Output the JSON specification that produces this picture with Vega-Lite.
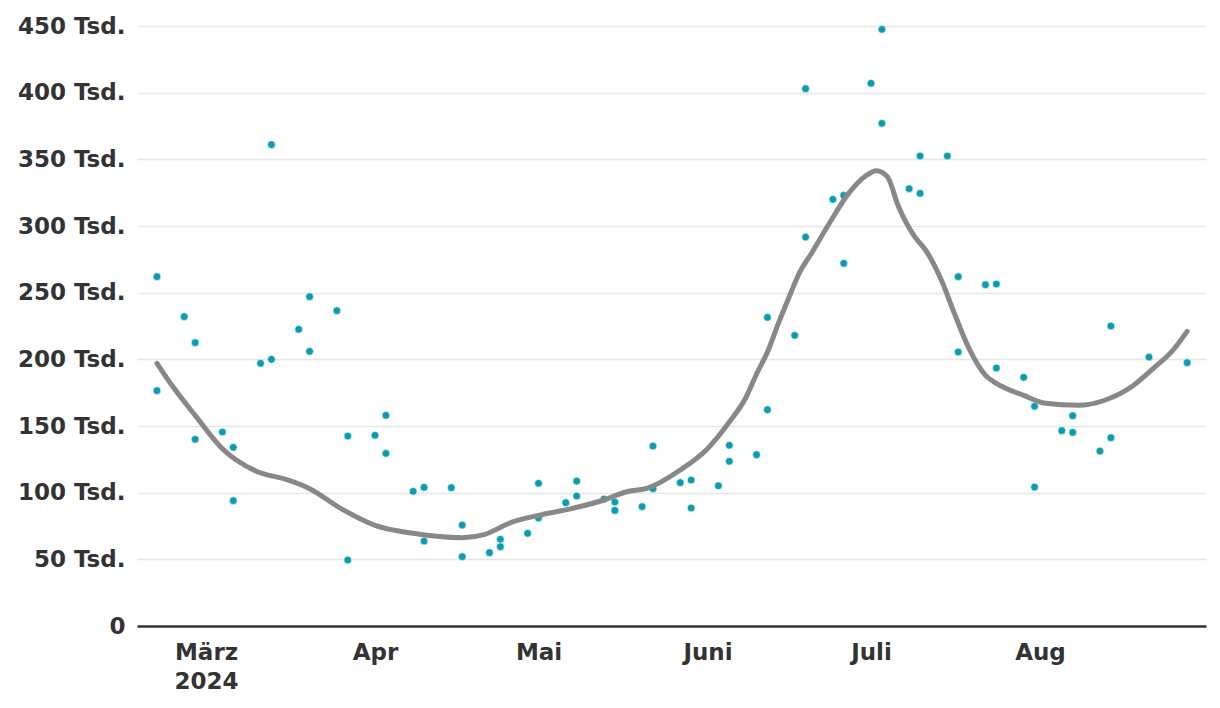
{
  "$schema": "https://vega.github.io/schema/vega-lite/v6.json",
  "width": 1069,
  "height": 600,
  "autosize": {"type": "none"},
  "padding": {"left": 137, "top": 26, "right": 14, "bottom": 82},
  "background": "white",
  "config": {
    "view": {"stroke": null},
    "font": "DejaVu Sans"
  },
  "datasets": {
    "points": [
      {"date": "2024-02-21", "value": 262000}, {"date": "2024-02-21", "value": 176500},
      {"date": "2024-02-26", "value": 232000},
      {"date": "2024-02-28", "value": 212500}, {"date": "2024-02-28", "value": 140000},
      {"date": "2024-03-04", "value": 145500},
      {"date": "2024-03-06", "value": 134000}, {"date": "2024-03-06", "value": 94000},
      {"date": "2024-03-11", "value": 197000},
      {"date": "2024-03-13", "value": 361000}, {"date": "2024-03-13", "value": 200000},
      {"date": "2024-03-18", "value": 222500},
      {"date": "2024-03-20", "value": 247000}, {"date": "2024-03-20", "value": 206000},
      {"date": "2024-03-25", "value": 236500},
      {"date": "2024-03-27", "value": 142500}, {"date": "2024-03-27", "value": 49500},
      {"date": "2024-04-01", "value": 143000},
      {"date": "2024-04-03", "value": 158000}, {"date": "2024-04-03", "value": 129500},
      {"date": "2024-04-08", "value": 101000},
      {"date": "2024-04-10", "value": 104000}, {"date": "2024-04-10", "value": 63700},
      {"date": "2024-04-15", "value": 103700},
      {"date": "2024-04-17", "value": 75700}, {"date": "2024-04-17", "value": 52000},
      {"date": "2024-04-22", "value": 55000},
      {"date": "2024-04-24", "value": 65000}, {"date": "2024-04-24", "value": 59500},
      {"date": "2024-04-29", "value": 69500},
      {"date": "2024-05-01", "value": 107000}, {"date": "2024-05-01", "value": 81000},
      {"date": "2024-05-06", "value": 92500},
      {"date": "2024-05-08", "value": 108700}, {"date": "2024-05-08", "value": 97500},
      {"date": "2024-05-13", "value": 95200},
      {"date": "2024-05-15", "value": 93000}, {"date": "2024-05-15", "value": 86700},
      {"date": "2024-05-20", "value": 89500},
      {"date": "2024-05-22", "value": 135000}, {"date": "2024-05-22", "value": 103000},
      {"date": "2024-05-27", "value": 107500},
      {"date": "2024-05-29", "value": 109500}, {"date": "2024-05-29", "value": 88500},
      {"date": "2024-06-03", "value": 105200},
      {"date": "2024-06-05", "value": 135500}, {"date": "2024-06-05", "value": 123500},
      {"date": "2024-06-10", "value": 128500},
      {"date": "2024-06-12", "value": 231500}, {"date": "2024-06-12", "value": 162200},
      {"date": "2024-06-17", "value": 218000},
      {"date": "2024-06-19", "value": 403000}, {"date": "2024-06-19", "value": 291700},
      {"date": "2024-06-24", "value": 320000},
      {"date": "2024-06-26", "value": 323000}, {"date": "2024-06-26", "value": 272000},
      {"date": "2024-07-01", "value": 407000},
      {"date": "2024-07-03", "value": 447500}, {"date": "2024-07-03", "value": 377000},
      {"date": "2024-07-08", "value": 328000},
      {"date": "2024-07-10", "value": 352500}, {"date": "2024-07-10", "value": 324500},
      {"date": "2024-07-15", "value": 352500},
      {"date": "2024-07-17", "value": 262000}, {"date": "2024-07-17", "value": 205500},
      {"date": "2024-07-22", "value": 256000},
      {"date": "2024-07-24", "value": 256500}, {"date": "2024-07-24", "value": 193500},
      {"date": "2024-07-29", "value": 186500},
      {"date": "2024-07-31", "value": 164800}, {"date": "2024-07-31", "value": 104200},
      {"date": "2024-08-05", "value": 146500},
      {"date": "2024-08-07", "value": 157700}, {"date": "2024-08-07", "value": 145200},
      {"date": "2024-08-12", "value": 131200},
      {"date": "2024-08-14", "value": 225000}, {"date": "2024-08-14", "value": 141200},
      {"date": "2024-08-21", "value": 201700},
      {"date": "2024-08-28", "value": 197500}
    ],
    "trend": [
      {"date": "2024-02-21", "value": 197000},
      {"date": "2024-02-24", "value": 179000},
      {"date": "2024-02-28", "value": 158000},
      {"date": "2024-03-04", "value": 133000},
      {"date": "2024-03-10", "value": 116500},
      {"date": "2024-03-16", "value": 109500},
      {"date": "2024-03-20", "value": 103000},
      {"date": "2024-03-26", "value": 87500},
      {"date": "2024-04-01", "value": 75500},
      {"date": "2024-04-08", "value": 69500},
      {"date": "2024-04-17", "value": 66200},
      {"date": "2024-04-21", "value": 68500},
      {"date": "2024-04-26", "value": 77700},
      {"date": "2024-05-01", "value": 83000},
      {"date": "2024-05-07", "value": 88000},
      {"date": "2024-05-13", "value": 94500},
      {"date": "2024-05-17", "value": 100500},
      {"date": "2024-05-21", "value": 103400},
      {"date": "2024-05-27", "value": 117000},
      {"date": "2024-06-01", "value": 133000},
      {"date": "2024-06-05", "value": 153000},
      {"date": "2024-06-08", "value": 171000},
      {"date": "2024-06-10", "value": 189000},
      {"date": "2024-06-12", "value": 205500},
      {"date": "2024-06-14", "value": 227000},
      {"date": "2024-06-16", "value": 247000},
      {"date": "2024-06-18", "value": 266000},
      {"date": "2024-06-20", "value": 279000},
      {"date": "2024-06-23", "value": 299600},
      {"date": "2024-06-27", "value": 325000},
      {"date": "2024-06-30", "value": 337500},
      {"date": "2024-07-02", "value": 341500},
      {"date": "2024-07-04", "value": 337000},
      {"date": "2024-07-06", "value": 315000},
      {"date": "2024-07-09", "value": 292000},
      {"date": "2024-07-11", "value": 282000},
      {"date": "2024-07-14", "value": 258500},
      {"date": "2024-07-16", "value": 237500},
      {"date": "2024-07-19", "value": 208000},
      {"date": "2024-07-22", "value": 188000},
      {"date": "2024-07-24", "value": 182000},
      {"date": "2024-07-29", "value": 173000},
      {"date": "2024-08-02", "value": 167000},
      {"date": "2024-08-08", "value": 165500},
      {"date": "2024-08-13", "value": 169500},
      {"date": "2024-08-18", "value": 180000},
      {"date": "2024-08-22", "value": 194000},
      {"date": "2024-08-25", "value": 205000},
      {"date": "2024-08-28", "value": 221000}
    ]
  },
  "encoding": {
    "x": {
      "field": "date",
      "type": "temporal",
      "scale": {
        "type": "utc",
        "domain": [
          {"year": 2024, "month": 2, "date": 17, "hours": 8, "utc": true},
          {"year": 2024, "month": 8, "date": 31, "hours": 11, "utc": true}
        ]
      },
      "axis": {
        "title": null,
        "values": [
          {"year": 2024, "month": 3, "date": 1, "utc": true},
          {"year": 2024, "month": 4, "date": 1, "utc": true},
          {"year": 2024, "month": 5, "date": 1, "utc": true},
          {"year": 2024, "month": 6, "date": 1, "utc": true},
          {"year": 2024, "month": 7, "date": 1, "utc": true},
          {"year": 2024, "month": 8, "date": 1, "utc": true}
        ],
        "labelExpr": "utcmonth(datum.value) == 2 ? ['März', '2024'] : ['Jan','Feb','März','Apr','Mai','Juni','Juli','Aug','Sep','Okt','Nov','Dez'][utcmonth(datum.value)]",
        "ticks": false,
        "grid": false,
        "domain": true,
        "domainColor": "#333333",
        "domainWidth": 2.5,
        "labelFont": "DejaVu Sans",
        "labelFontWeight": "bold",
        "labelFontSize": 23,
        "labelColor": "#333333",
        "labelPadding": 15,
        "labelLineHeight": 29,
        "labelFlush": false,
        "labelOverlap": false
      }
    },
    "y": {
      "field": "value",
      "type": "quantitative",
      "scale": {"domain": [0, 450000], "nice": false, "zero": true},
      "axis": {
        "title": null,
        "values": [0, 50000, 100000, 150000, 200000, 250000, 300000, 350000, 400000, 450000],
        "labelExpr": "datum.value == 0 ? '0' : format(datum.value / 1000, 'd') + ' Tsd.'",
        "ticks": false,
        "domain": false,
        "grid": true,
        "gridColor": "#e6e6e6",
        "gridWidth": 1.5,
        "labelFont": "DejaVu Sans",
        "labelFontWeight": "bold",
        "labelFontSize": 23,
        "labelColor": "#333333",
        "labelPadding": 12
      }
    }
  },
  "layer": [
    {
      "data": {"name": "points"},
      "mark": {"type": "point", "filled": true, "shape": "circle", "size": 60, "color": "#0a9db0", "opacity": 1, "stroke": "white", "strokeWidth": 0.6}
    },
    {
      "data": {"name": "trend"},
      "mark": {"type": "line", "interpolate": "monotone", "color": "#888888", "strokeWidth": 5, "strokeCap": "round", "strokeJoin": "round"}
    }
  ]
}
